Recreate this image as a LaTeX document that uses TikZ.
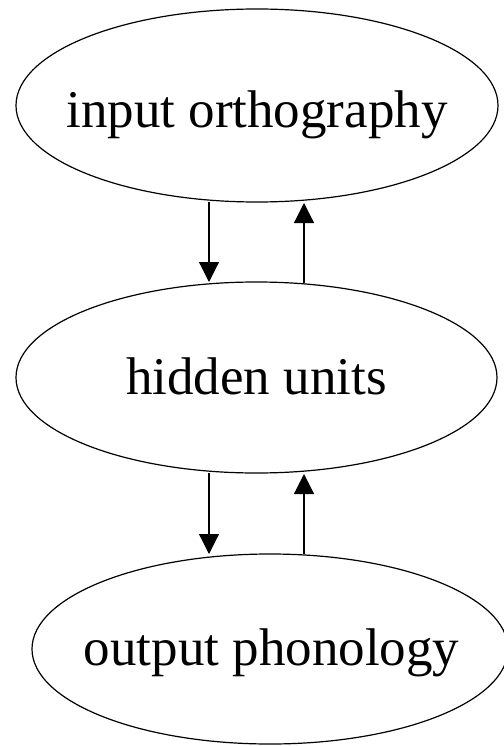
\documentclass[tikz,border=0pt]{standalone}
\usepackage{fontspec}
\setmainfont{Liberation Serif}
\usetikzlibrary{shapes.geometric,arrows.meta}
\begin{document}
\begin{tikzpicture}[x=1pt,y=-1pt,
  layer/.style={draw,ellipse,line width=1.2pt,inner sep=0pt},
  lbl/.style={anchor=base,font=\fontsize{53}{60}\selectfont,inner sep=0pt},
  conn/.style={line width=1.2pt,-{Triangle[length=20pt,width=20pt]}}]
\useasboundingbox (0,0) rectangle (503,746);
\node[layer,minimum width=482pt,minimum height=193pt] (inp) at (257,105.5) {};
\node[layer,minimum width=481pt,minimum height=191pt] (hid) at (256.5,377.5) {};
\node[layer,minimum width=476pt,minimum height=190pt] (out) at (270,649) {};
\node[lbl] (tinp) at (257,128) {input orthography};
\node[lbl] (thid) at (256.5,394) {hidden units};
\node[lbl] (tout) at (271.5,665) {output phonology};
\coordinate (a1s) at (209,202);
\coordinate (a1e) at (209,282);
\coordinate (a2s) at (304,283);
\coordinate (a2e) at (304,203);
\coordinate (a3s) at (209,473);
\coordinate (a3e) at (209,554);
\coordinate (a4s) at (304,554);
\coordinate (a4e) at (304,474);
\draw[conn] (a1s) -- (a1e);
\draw[conn] (a2s) -- (a2e);
\draw[conn] (a3s) -- (a3e);
\draw[conn] (a4s) -- (a4e);
\end{tikzpicture}
\end{document}
